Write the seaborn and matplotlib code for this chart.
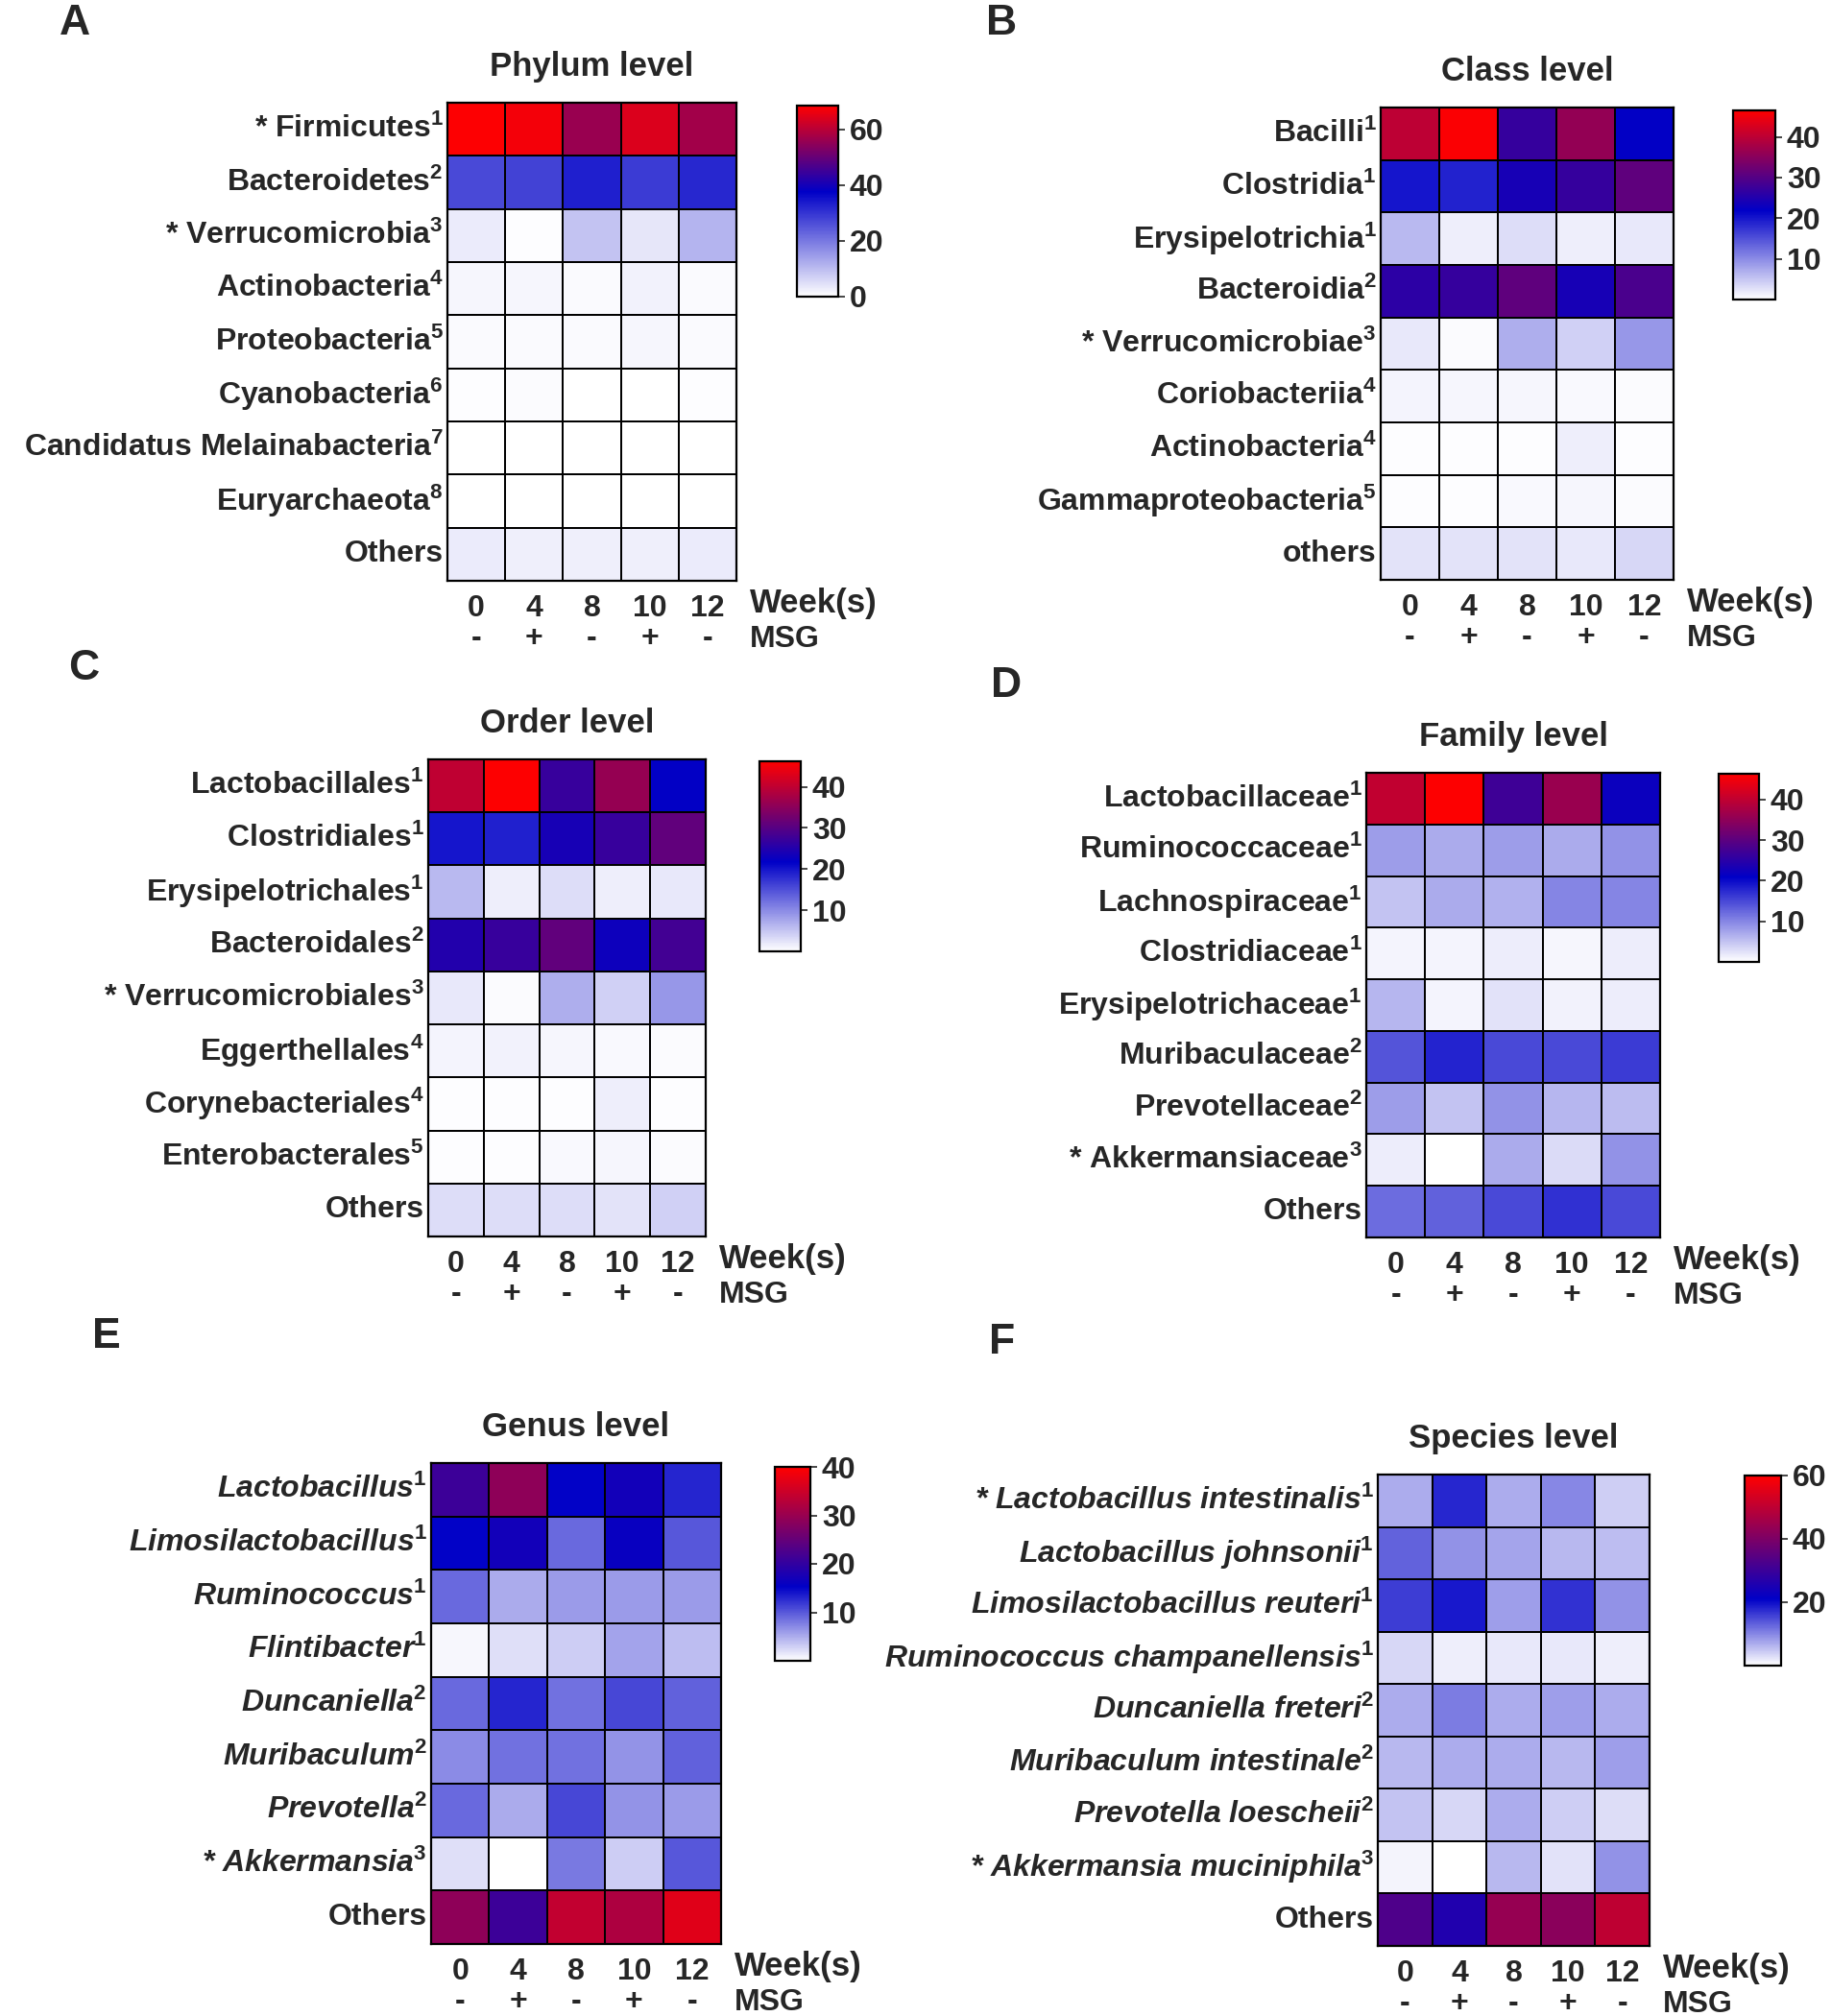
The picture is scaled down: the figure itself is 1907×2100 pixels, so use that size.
import numpy as np
import pandas as pd
import matplotlib
matplotlib.use('Agg')
import matplotlib.pyplot as plt
import seaborn as sns
from matplotlib.colors import LinearSegmentedColormap

# x axis: sampling weeks and MSG treatment
weeks = ['0', '4', '8', '10', '12']
msg = ['-', '+', '-', '+', '-']

# A - phylum
phylum_names = ['* Firmicutes', 'Bacteroidetes', '* Verrucomicrobia', 'Actinobacteria',
                'Proteobacteria', 'Cyanobacteria', 'Candidatus Melainabacteria',
                'Euryarchaeota', 'Others']
phylum_sup = [1, 2, 3, 4, 5, 6, 7, 8, None]
phylum_vals = [[68, 67, 56, 64, 57],
               [27, 28, 33, 29, 32],
               [3, 0.5, 9, 4, 11],
               [1.5, 1.5, 1, 2, 1],
               [1, 1, 1, 1.5, 1],
               [0.3, 0.8, 0.2, 0.2, 0.3],
               [0.2, 0.2, 0.2, 0.2, 0.2],
               [0.1, 0.1, 0.1, 0.1, 0.1],
               [3, 2.5, 2.5, 2.5, 3]]

# B - class
class_names = ['Bacilli', 'Clostridia', 'Erysipelotrichia', 'Bacteroidia', '* Verrucomicrobiae',
               'Coriobacteriia', 'Actinobacteria', 'Gammaproteobacteria', 'others']
class_sup = [1, 1, 1, 2, 3, 4, 4, 5, None]
class_vals = [[40, 46, 27, 36, 22],
              [20, 19, 24, 27, 31],
              [6, 1.5, 3, 1.5, 2],
              [26, 27, 31, 24, 29],
              [2, 0.5, 7, 4, 9],
              [1, 0.8, 0.8, 0.6, 0.5],
              [0.3, 0.3, 0.3, 1.5, 0.3],
              [0.3, 0.3, 0.6, 0.8, 0.5],
              [2.5, 2.5, 2.5, 2, 3.5]]

# C - order
order_names = ['Lactobacillales', 'Clostridiales', 'Erysipelotrichales', 'Bacteroidales',
               '* Verrucomicrobiales', 'Eggerthellales', 'Corynebacteriales',
               'Enterobacterales', 'Others']
order_sup = [1, 1, 1, 2, 3, 4, 4, 5, None]
order_vals = [[40, 46, 27, 36, 22],
              [20, 19, 24, 27, 31],
              [6, 1.5, 3, 1.5, 2],
              [25, 27, 31, 23, 28],
              [2, 0.5, 7, 4, 9],
              [1, 1.2, 0.8, 0.6, 0.5],
              [0.2, 0.2, 0.2, 1.5, 0.2],
              [0.3, 0.3, 0.6, 0.8, 0.5],
              [3, 3, 3, 2.5, 4]]

# D - family
family_names = ['Lactobacillaceae', 'Ruminococcaceae', 'Lachnospiraceae', 'Clostridiaceae',
                'Erysipelotrichaceae', 'Muribaculaceae', 'Prevotellaceae',
                '* Akkermansiaceae', 'Others']
family_sup = [1, 1, 1, 1, 1, 2, 2, 3, None]
family_vals = [[40, 46, 27, 36, 22],
               [8, 7, 8, 7, 9],
               [5, 7, 6.5, 10, 10],
               [1, 1, 1.5, 0.8, 1.5],
               [6, 1, 2.5, 1.2, 1.5],
               [14, 18, 15, 15, 16],
               [8, 5, 9, 6, 5.5],
               [1.5, 0, 7, 3, 9],
               [12, 13, 15, 17, 15]]

# E - genus
genus_names = ['Lactobacillus', 'Limosilactobacillus', 'Ruminococcus', 'Flintibacter',
               'Duncaniella', 'Muribaculum', 'Prevotella', '* Akkermansia', 'Others']
genus_sup = [1, 1, 1, 1, 2, 2, 2, 3, None]
genus_vals = [[21, 29, 15, 17, 13],
              [15, 17, 9, 16, 10],
              [9, 5, 6, 6, 6],
              [0.5, 2, 3, 5.5, 4],
              [9, 13, 8.5, 11, 9.5],
              [7, 8.5, 8.5, 6.5, 9.5],
              [9, 5, 11, 6.5, 6],
              [2, 0, 8, 3, 10],
              [29, 21, 34, 32, 37]]

# F - species
species_names = ['* Lactobacillus intestinalis', 'Lactobacillus johnsonii',
                 'Limosilactobacillus reuteri', 'Ruminococcus champanellensis',
                 'Duncaniella freteri', 'Muribaculum intestinale', 'Prevotella loescheii',
                 '* Akkermansia muciniphila', 'Others']
species_sup = [1, 1, 1, 1, 2, 2, 2, 3, None]
species_vals = [[7, 18, 7, 10, 4],
                [13, 9, 7.5, 6, 5.5],
                [16, 19, 8, 17, 9],
                [3.5, 1.5, 2, 2, 1.5],
                [7, 11, 7, 8, 7],
                [6, 7, 7, 6, 8],
                [5, 3.5, 7, 4, 3],
                [1, 0, 6, 2.5, 9],
                [33, 26, 44, 42, 50]]

sns.set_style('white')
plt.rcParams['font.family'] = ['Liberation Sans Narrow', 'Liberation Sans', 'DejaVu Sans']
plt.rcParams['mathtext.fontset'] = 'custom'
plt.rcParams['mathtext.rm'] = 'Liberation Sans:bold'
plt.rcParams['mathtext.it'] = 'Liberation Sans:bold'
plt.rcParams['mathtext.bf'] = 'Liberation Sans:bold'

W, H = 1907, 2100
fig = plt.figure(figsize=(W / 100, H / 100), dpi=100)
FS = 23


def box(l, t, r, b):
    return [l / W, 1 - b / H, (r - l) / W, (b - t) / H]


def panel(letter, lpos, title, names, sups, vals, hbox, cbox, vmax, mid, ticks, italic=False):
    ax = fig.add_axes(box(*hbox))
    cax = fig.add_axes(box(*cbox))
    cmap = LinearSegmentedColormap.from_list(
        'wbr', [(0, 'white'), (mid, (0.0, 0.0, 0.78)), (1, (1.0, 0.0, 0.0))])
    labels = [f'{n}$^{{{s}}}$' if s else n for n, s in zip(names, sups)]
    df = pd.DataFrame(vals, index=labels, columns=weeks)
    sns.heatmap(df, ax=ax, cbar_ax=cax, cmap=cmap, vmin=0, vmax=vmax,
                linewidths=1.2, linecolor='black', cbar_kws={'ticks': ticks})
    for sp in ax.spines.values():
        sp.set_visible(True)
        sp.set_linewidth(1.6)
        sp.set_color('black')
    ax.set_yticklabels(labels, rotation=0, fontsize=FS, fontweight='bold',
                       fontstyle='italic' if italic else 'normal')
    if italic:
        ax.get_yticklabels()[-1].set_fontstyle('normal')
    ax.set_xticklabels(weeks, rotation=0, fontsize=FS, fontweight='bold')
    ax.tick_params(axis='y', length=0, pad=3)
    ax.tick_params(axis='x', length=7, width=1.5, pad=3, color='black')
    ax.set_xlabel('')
    ax.set_ylabel('')
    ax.set_title(title, fontsize=25, fontweight='bold', pad=20)
    for i, m in enumerate(msg):
        ax.annotate(m, xy=(i + 0.5, 0), xycoords=('data', 'axes fraction'),
                    xytext=(0, -43), textcoords='offset points', ha='center', va='center',
                    fontsize=FS, fontweight='bold')
    ax.annotate('Week(s)', xy=(1, 0), xycoords='axes fraction', xytext=(10, -17),
                textcoords='offset points', ha='left', va='center', fontsize=25, fontweight='bold')
    ax.annotate('MSG', xy=(1, 0), xycoords='axes fraction', xytext=(10, -44),
                textcoords='offset points', ha='left', va='center', fontsize=FS, fontweight='bold')
    cax.tick_params(labelsize=FS, length=5, width=1.2)
    for t in cax.get_yticklabels():
        t.set_fontweight('bold')
    cbar = ax.collections[0].colorbar
    cbar.outline.set_visible(True)
    cbar.outline.set_linewidth(1.6)
    cbar.outline.set_edgecolor('black')
    fig.text(lpos[0] / W, 1 - lpos[1] / H, letter, ha='center', va='center',
             fontsize=32, fontweight='bold', family='Liberation Sans')


panel('A', (78, 24), 'Phylum level', phylum_names, phylum_sup, phylum_vals,
      (466, 107, 767, 605), (830, 110, 873, 309), 68.5, 0.55, [0, 20, 40, 60])
panel('B', (1043, 24), 'Class level', class_names, class_sup, class_vals,
      (1438, 112, 1743, 604), (1805, 115, 1849, 312), 46.5, 0.47, [10, 20, 30, 40])
panel('C', (87, 696), 'Order level', order_names, order_sup, order_vals,
      (446, 791, 735, 1288), (791, 793, 834, 991), 46.2, 0.47, [10, 20, 30, 40])
panel('D', (1048, 715), 'Family level', family_names, family_sup, family_vals,
      (1423, 805, 1729, 1289), (1790, 806, 1832, 1002), 46.3, 0.45, [10, 20, 30, 40])
panel('E', (111, 1393), 'Genus level', genus_names, genus_sup, genus_vals,
      (449, 1524, 751, 2025), (807, 1528, 844, 1730), 40, 0.38, [10, 20, 30, 40], italic=True)
panel('F', (1044, 1399), 'Species level', species_names, species_sup, species_vals,
      (1435, 1536, 1718, 2027), (1817, 1537, 1855, 1735), 60, 0.35, [20, 40, 60], italic=True)

fig.savefig('out.png', dpi=100, facecolor='white')
